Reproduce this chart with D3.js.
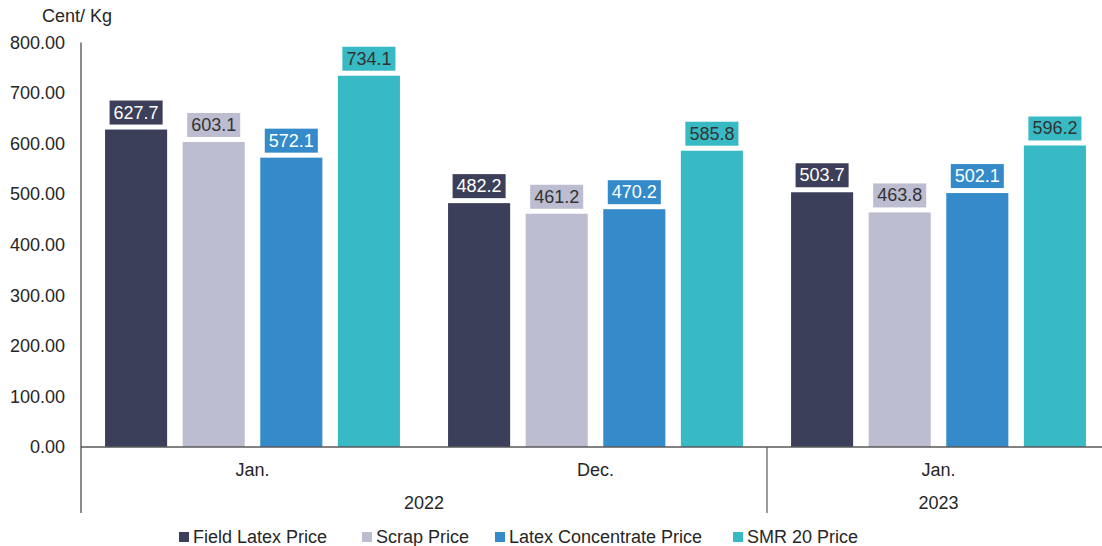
<!DOCTYPE html>
<html>
<head>
<meta charset="utf-8">
<script src="https://cdn.jsdelivr.net/npm/d3@7"></script>
<style>
  html, body { margin: 0; padding: 0; background: #fff; }
  svg { display: block; font-family: "Liberation Sans", Arial, sans-serif; }
</style>
</head>
<body>
<svg id="chart" width="1102" height="546"></svg>
<script>
// Monthly rubber prices, cent per kg
const months = ["Jan.", "Dec.", "Jan."];
const years = ["2022", "2022", "2023"];
const seriesNames = ["Field Latex Price", "Scrap Price", "Latex Concentrate Price", "SMR 20 Price"];
const fieldLatex = [627.7, 482.2, 503.7];
const scrap = [603.1, 461.2, 463.8];
const latexConcentrate = [572.1, 470.2, 502.1];
const smr20 = [734.1, 585.8, 596.2];
const yTicks = [0, 100, 200, 300, 400, 500, 600, 700, 800];

const seriesValues = [fieldLatex, scrap, latexConcentrate, smr20];
const colors = ["#3c3f59", "#bcbdd0", "#358bc9", "#37bac4"];
const labelText = ["#ffffff", "#333333", "#ffffff", "#333333"];

const svg = d3.select("#chart");
const plotLeft = 81, plotRight = 1110, plotTop = 42.4, base = 447, axisBottom = 513;
const fontSize = 18;
const textColor = "#262626";

const groupKeys = months.map((m, i) => i);
const x0 = d3.scaleBand().domain(groupKeys).range([plotLeft, plotRight]).padding(0);
const x1 = d3.scaleBand().domain(d3.range(seriesNames.length))
  .range([0, x0.bandwidth()]).paddingInner(0.2).paddingOuter(0.31);
const y = d3.scaleLinear().domain([0, 800]).range([base, plotTop]);

// Unit label
svg.append("text").attr("x", 42).attr("y", 22)
  .attr("font-size", fontSize).attr("fill", textColor).text("Cent/ Kg");

// Y axis tick labels
const yAxis = d3.axisLeft(y).tickValues(yTicks).tickFormat(d3.format(".2f")).tickSize(0).tickPadding(16);
const yg = svg.append("g").attr("transform", `translate(${plotLeft},0)`).call(yAxis);
yg.select(".domain").remove();
yg.selectAll("text").attr("font-size", fontSize).attr("fill", textColor)
  .attr("font-family", "Liberation Sans, Arial, sans-serif");

// Bars
const groups = svg.append("g").selectAll("g").data(groupKeys).join("g")
  .attr("transform", g => `translate(${x0(g)},0)`);

groups.each(function (g) {
  const sel = d3.select(this);
  seriesValues.forEach((vals, s) => {
    const v = vals[g];
    const bx = x1(s), bw = x1.bandwidth();
    sel.append("rect").attr("x", bx).attr("y", y(v))
      .attr("width", bw).attr("height", y(0) - y(v)).attr("fill", colors[s]);
    // value label in a coloured box
    const lbl = sel.append("g");
    const t = lbl.append("text").attr("x", bx + bw / 2).attr("y", y(v) - 11)
      .attr("text-anchor", "middle").attr("font-size", fontSize)
      .attr("fill", labelText[s]).text(v.toFixed(1));
    const tw = t.node().getComputedTextLength();
    lbl.insert("rect", "text").attr("x", bx + bw / 2 - tw / 2 - 4)
      .attr("y", y(v) - 29).attr("width", tw + 8).attr("height", 24)
      .attr("fill", colors[s]);
  });
});

// Axis lines
svg.append("line").attr("x1", plotLeft).attr("x2", plotRight).attr("y1", base).attr("y2", base)
  .attr("stroke", "#595959").attr("stroke-width", 1.5);
svg.append("line").attr("x1", plotLeft).attr("x2", plotLeft).attr("y1", plotTop).attr("y2", axisBottom)
  .attr("stroke", "#404040").attr("stroke-width", 1.2);

// Month labels
svg.append("g").selectAll("text").data(groupKeys).join("text")
  .attr("x", g => x0(g) + x0.bandwidth() / 2).attr("y", 476)
  .attr("text-anchor", "middle").attr("font-size", fontSize).attr("fill", textColor)
  .text(g => months[g]);

// Year spans and dividers
const spans = [];
groupKeys.forEach(g => {
  const last = spans[spans.length - 1];
  if (last && last.year === years[g]) last.end = x0(g) + x0.bandwidth();
  else spans.push({ year: years[g], start: x0(g), end: x0(g) + x0.bandwidth() });
});
spans.forEach((s, i) => {
  svg.append("text").attr("x", (s.start + s.end) / 2).attr("y", 509)
    .attr("text-anchor", "middle").attr("font-size", fontSize).attr("fill", textColor)
    .text(s.year);
  if (i > 0) {
    svg.append("line").attr("x1", s.start).attr("x2", s.start).attr("y1", base).attr("y2", axisBottom)
      .attr("stroke", "#595959").attr("stroke-width", 1.2);
  }
});

// Legend
const legendX = [179, 362, 495, 733];
const lg = svg.append("g").selectAll("g").data(seriesNames).join("g")
  .attr("transform", (d, i) => `translate(${legendX[i]},532)`);
lg.append("rect").attr("width", 10).attr("height", 10).attr("fill", (d, i) => colors[i]);
lg.append("text").attr("x", 14).attr("y", 11).attr("font-size", fontSize)
  .attr("fill", textColor).text(d => d);
</script>
</body>
</html>
